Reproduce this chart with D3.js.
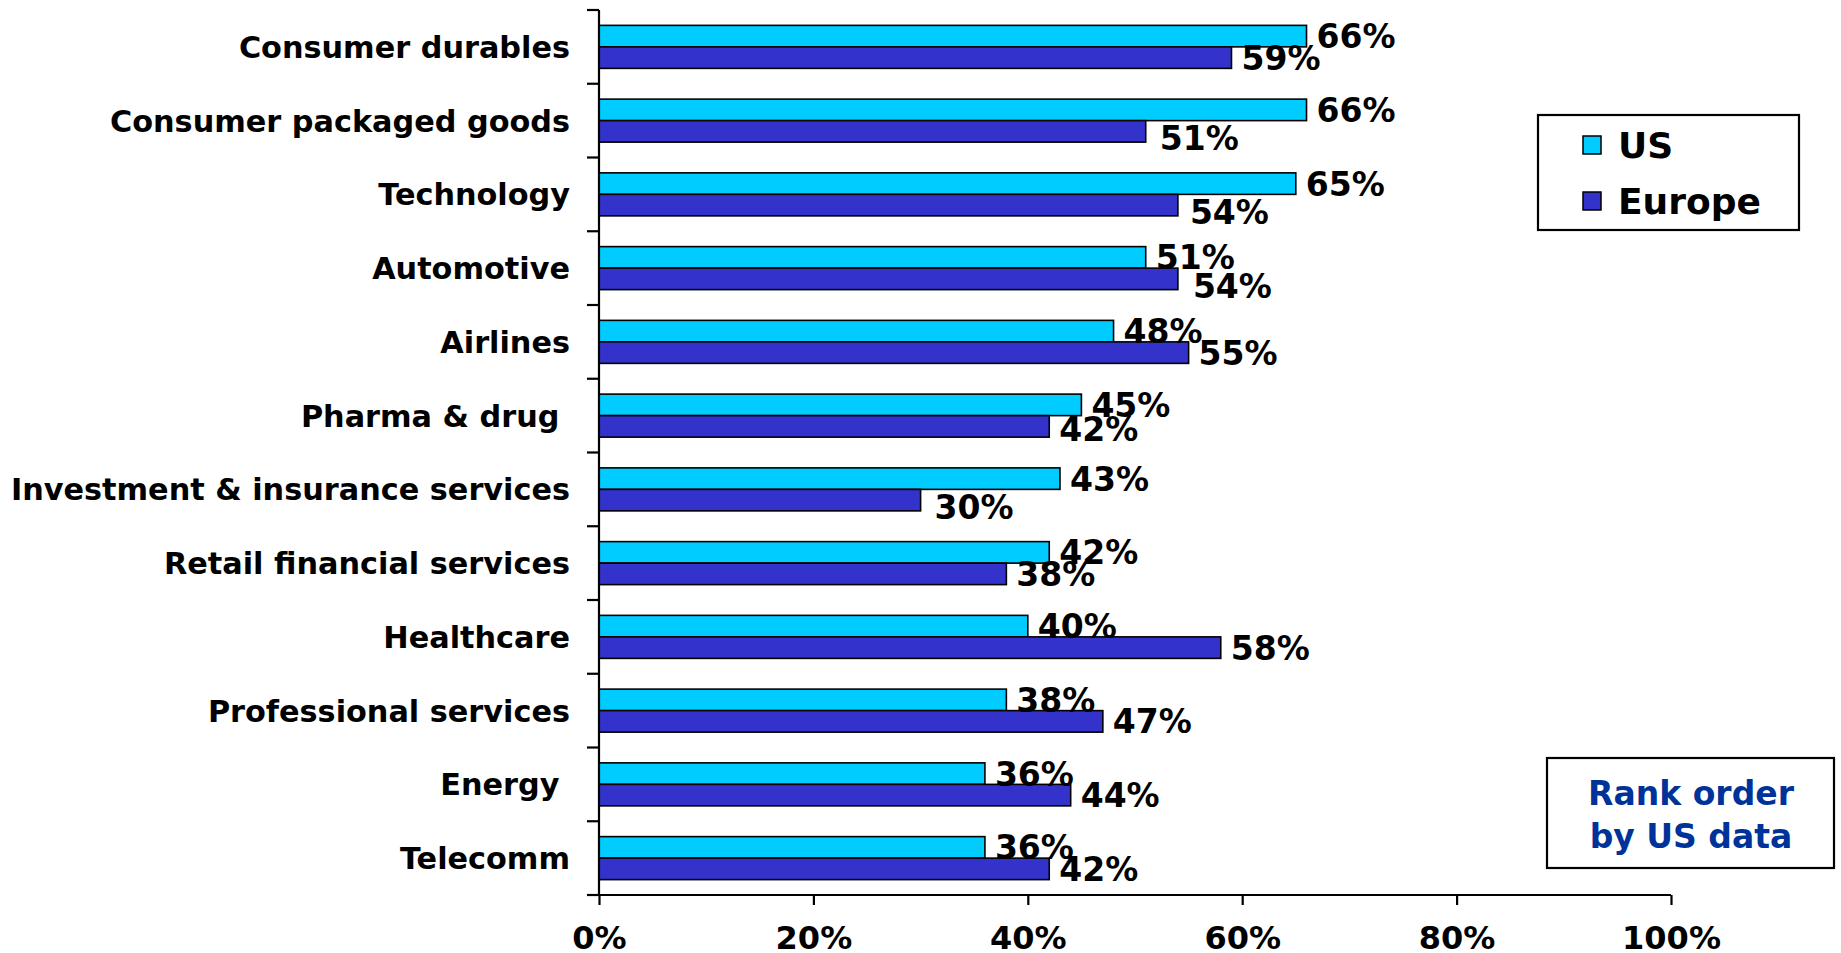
<!DOCTYPE html>
<html>
<head>
<meta charset="utf-8">
<script src="https://cdn.jsdelivr.net/npm/d3@7"></script>
<style>
  html, body { margin: 0; padding: 0; background: #fff; }
  svg { display: block; font-family: "DejaVu Sans", Verdana, sans-serif; font-weight: bold; }
  .cat { white-space: pre; }
</style>
</head>
<body>
<svg id="chart" width="1841" height="953"></svg>
<script>
// Industry categories, top to bottom (ranked by US share)
const categories = [
  "Consumer durables",
  "Consumer packaged goods",
  "Technology",
  "Automotive",
  "Airlines",
  "Pharma & drug ",
  "Investment & insurance services",
  "Retail financial services",
  "Healthcare",
  "Professional services",
  "Energy ",
  "Telecomm"
];
const seriesNames = ["US", "Europe"];
const usValues     = [0.66, 0.66, 0.65, 0.51, 0.48, 0.45, 0.43, 0.42, 0.40, 0.38, 0.36, 0.36];
const europeValues = [0.59, 0.51, 0.54, 0.54, 0.55, 0.42, 0.30, 0.38, 0.58, 0.47, 0.44, 0.42];
const xTicks = [0, 0.2, 0.4, 0.6, 0.8, 1.0];
const noteLines = ["Rank order", "by US data"];

// Hand-placed offsets (px) for a few Europe value labels
const europeLabelNudge = [[0,0],[4,7],[2,7],[5,7],[0,0],[0,3],[4,7],[0,0],[0,0],[0,0],[0,0],[0,0]];

const colors = { US: "#00CCFF", Europe: "#3333CC" };

const svg = d3.select("#chart");
const plot = { left: 599, right: 1671, top: 10, bottom: 895 };

const x = d3.scaleLinear().domain([0, 1]).range([plot.left, plot.right]);
const y = d3.scaleBand().domain(categories).range([plot.top, plot.bottom]).padding(0);
const ySub = d3.scaleBand().domain(seriesNames).range([0, y.bandwidth()])
  .paddingInner(0).paddingOuter(0.715);

const rows = categories.map((c, i) => ({
  cat: c, i,
  vals: [
    { s: "US", v: usValues[i], nudge: [0, 0] },
    { s: "Europe", v: europeValues[i], nudge: europeLabelNudge[i] }
  ]
}));

// Bars
const g = svg.append("g");
const rowG = g.selectAll("g.row").data(rows).join("g")
  .attr("class", "row")
  .attr("transform", d => `translate(0,${y(d.cat)})`);

rowG.selectAll("rect").data(d => d.vals).join("rect")
  .attr("x", x(0))
  .attr("y", d => ySub(d.s))
  .attr("width", d => x(d.v) - x(0))
  .attr("height", ySub.bandwidth())
  .attr("fill", d => colors[d.s])
  .attr("stroke", "#000")
  .attr("stroke-width", 1.6);

// Value labels
rowG.selectAll("text.val").data(d => d.vals).join("text")
  .attr("class", "val")
  .attr("x", d => x(d.v) + 10 + d.nudge[0])
  .attr("y", d => ySub(d.s) + ySub.bandwidth() / 2 + d.nudge[1])
  .attr("dy", "0.36em")
  .attr("font-size", 33)
  .attr("fill", "#000")
  .text(d => d3.format(".0%")(d.v));

// Category axis: line plus boundary ticks between categories
svg.append("line")
  .attr("x1", plot.left).attr("x2", plot.left)
  .attr("y1", plot.top).attr("y2", plot.bottom)
  .attr("stroke", "#000").attr("stroke-width", 2.2);
const bounds = categories.map(c => y(c)).concat([plot.bottom]);
svg.selectAll("line.ytick").data(bounds).join("line")
  .attr("class", "ytick")
  .attr("x1", plot.left - 12).attr("x2", plot.left)
  .attr("y1", d => d).attr("y2", d => d)
  .attr("stroke", "#000").attr("stroke-width", 2.2);

svg.selectAll("text.cat").data(categories).join("text")
  .attr("class", "cat")
  .attr("x", 570)
  .attr("y", d => y(d) + y.bandwidth() / 2)
  .attr("dy", "0.36em")
  .attr("text-anchor", "end")
  .attr("font-size", 30.3)
  .attr("fill", "#000")
  .text(d => d);

// Value axis
const xAxis = d3.axisBottom(x)
  .tickValues(xTicks)
  .tickSize(10)
  .tickSizeOuter(0)
  .tickFormat(d3.format(".0%"));
const xg = svg.append("g")
  .attr("transform", `translate(0,${plot.bottom})`)
  .call(xAxis);
xg.select(".domain").remove();
xg.selectAll(".tick line").attr("stroke", "#000").attr("stroke-width", 2.2);
xg.selectAll(".tick text")
  .attr("y", 54).attr("dy", 0)
  .attr("fill", "#000")
  .attr("font-size", 32)
  .attr("font-family", "DejaVu Sans, Verdana, sans-serif")
  .attr("font-weight", "bold");
svg.append("line")
  .attr("x1", plot.left - 12).attr("x2", plot.right)
  .attr("y1", plot.bottom).attr("y2", plot.bottom)
  .attr("stroke", "#000").attr("stroke-width", 2.2);

// Legend
const leg = svg.append("g");
leg.append("rect")
  .attr("x", 1538).attr("y", 115).attr("width", 261).attr("height", 115)
  .attr("fill", "#fff").attr("stroke", "#000").attr("stroke-width", 2.2);
const legItems = leg.selectAll("g.item").data(seriesNames).join("g")
  .attr("class", "item")
  .attr("transform", (d, i) => `translate(1583,${136 + i * 56})`);
legItems.append("rect")
  .attr("width", 18).attr("height", 18)
  .attr("fill", d => colors[d]).attr("stroke", "#000").attr("stroke-width", 1.5);
legItems.append("text")
  .attr("x", 35).attr("y", 9).attr("dy", "0.36em")
  .attr("font-size", 36).attr("fill", "#000")
  .text(d => d);

// Note box
const note = svg.append("g");
note.append("rect")
  .attr("x", 1547).attr("y", 758).attr("width", 287).attr("height", 110)
  .attr("fill", "#fff").attr("stroke", "#000").attr("stroke-width", 2.2);
note.selectAll("text").data(noteLines).join("text")
  .attr("x", 1691)
  .attr("y", (d, i) => 805 + i * 43)
  .attr("text-anchor", "middle")
  .attr("font-size", 33)
  .attr("fill", "#003399")
  .text(d => d);
</script>
</body>
</html>
